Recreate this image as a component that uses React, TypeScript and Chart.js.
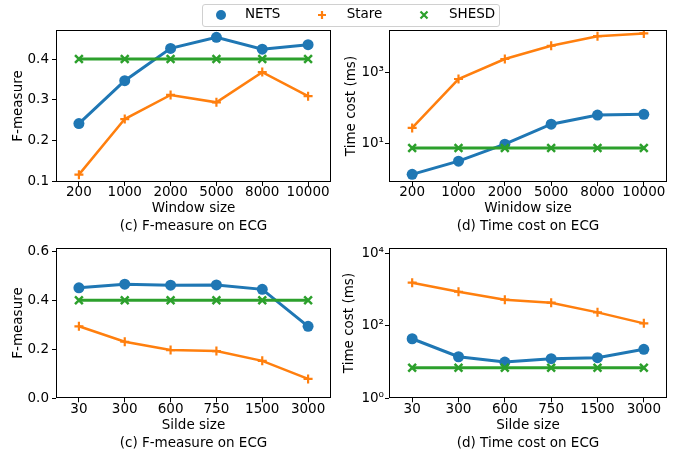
import React, { useEffect, useRef } from 'react';
import { Chart, registerables } from 'chart.js';

Chart.register(...registerables);

// ---------- data ----------
const windowSizes = ['200', '1000', '2000', '5000', '8000', '10000'];
const slideSizes = ['30', '300', '600', '750', '1500', '3000'];

const fWindowNETS = [0.242, 0.347, 0.426, 0.453, 0.424, 0.435];
const fWindowStare = [0.117, 0.253, 0.312, 0.294, 0.368, 0.309];
const fWindowSHESD = [0.4, 0.4, 0.4, 0.4, 0.4, 0.4];

const tWindowNETS = [1.36, 3.2, 9.6, 35, 63, 66];
const tWindowStare = [27.5, 650, 2370, 5600, 10400, 12400];
const tWindowSHESD = [7.5, 7.5, 7.5, 7.5, 7.5, 7.5];

const fSlideNETS = [0.451, 0.466, 0.462, 0.463, 0.445, 0.294];
const fSlideStare = [0.294, 0.231, 0.197, 0.193, 0.153, 0.079];
const fSlideSHESD = [0.4, 0.4, 0.4, 0.4, 0.4, 0.4];

const tSlideNETS = [44, 14, 10, 12.4, 13.2, 22.5];
const tSlideStare = [1550, 870, 525, 435, 235, 117];
const tSlideSHESD = [7, 7, 7, 7, 7, 7];

const fWindowTicks = [0.1, 0.2, 0.3, 0.4];
const tWindowTicks = [10, 1000];
const fSlideTicks = [0, 0.2, 0.4, 0.6];
const tSlideTicks = [1, 100, 10000];

const seriesNames = ['NETS', 'Stare', 'SHESD'];

// ---------- style ----------
const BLUE = '#1f77b4';
const ORANGE = '#ff7f0e';
const GREEN = '#2ca02c';
const FONT = '"DejaVu Sans", sans-serif';
const FS = 13.5;

const SUP: Record<string, string> = { '0': '⁰', '1': '¹', '2': '²', '3': '³', '4': '⁴', '5': '⁵', '-': '⁻' };
const logLabel = (v: number) => '10' + String(Math.round(Math.log10(v))).split('').map((c) => SUP[c] || c).join('');

const framePlugin = {
  id: 'frame',
  afterDatasetsDraw(chart: any) {
    const { ctx, chartArea } = chart;
    const l = Math.round(chartArea.left) + 0.5;
    const t = Math.round(chartArea.top) + 0.5;
    const r = Math.round(chartArea.right) - 0.5;
    const b = Math.round(chartArea.bottom) - 0.5;
    ctx.save();
    ctx.strokeStyle = '#000';
    ctx.lineWidth = 1;
    ctx.strokeRect(l, t, r - l, b - t);
    ctx.restore();
  },
};

type PanelProps = {
  left: number; top: number; width: number; height: number;
  labels: string[]; nets: number[]; stare: number[]; shesd: number[];
  log: boolean; min: number; max: number; yTicks: number[];
  xTitle: string; caption: string; yTitle: string;
  padTop: number; padRight: number; yAxisWidth: number; yTitlePad: number;
  xAxisHeight: number; capPad: number; yTickPad: number;
};

function Panel(p: PanelProps) {
  const ref = useRef<HTMLCanvasElement>(null);
  useEffect(() => {
    const tickFont = { family: FONT, size: FS, lineHeight: 1 };
    const titleFont = { family: FONT, size: FS, lineHeight: 18 / FS };
    const grid = {
      display: true, drawOnChartArea: false, drawTicks: true,
      tickLength: 4, tickColor: '#000', tickWidth: 1, offset: false,
    };
    const chart = new Chart(ref.current!, {
      type: 'line',
      data: {
        labels: p.labels,
        datasets: [
          {
            label: seriesNames[0], data: p.nets, borderColor: BLUE, backgroundColor: BLUE,
            borderWidth: 3, pointStyle: 'circle', pointRadius: 5.5, pointBorderWidth: 0,
            pointBackgroundColor: BLUE, order: 3,
          },
          {
            label: seriesNames[1], data: p.stare, borderColor: ORANGE, backgroundColor: ORANGE,
            borderWidth: 2.5, pointStyle: 'cross', pointRadius: 4.5, pointBorderWidth: 2.2,
            pointBorderColor: ORANGE, order: 2,
          },
          {
            label: seriesNames[2], data: p.shesd, borderColor: GREEN, backgroundColor: GREEN,
            borderWidth: 3, pointStyle: 'crossRot', pointRadius: 5.5, pointBorderWidth: 2.5,
            pointBorderColor: GREEN, order: 1,
          },
        ],
      },
      options: {
        responsive: false,
        animation: false,
        devicePixelRatio: 1,
        layout: { padding: { top: p.padTop, right: p.padRight, bottom: 0, left: 0 } },
        plugins: { legend: { display: false }, tooltip: { enabled: false } },
        scales: {
          x: {
            type: 'category',
            offset: true,
            grid,
            border: { display: false },
            ticks: { color: '#000', font: tickFont, padding: 0, maxRotation: 0, autoSkip: false },
            title: {
              display: true, text: [p.xTitle, p.caption], color: '#000', font: titleFont,
              padding: { top: 0, bottom: p.capPad },
            },
            afterFit: (s: any) => { s.height = p.xAxisHeight; },
          },
          y: {
            type: p.log ? 'logarithmic' : 'linear',
            min: p.min,
            max: p.max,
            grid,
            border: { display: false },
            afterBuildTicks: (s: any) => { s.ticks = p.yTicks.map((v) => ({ value: v })); },
            ticks: {
              color: '#000', font: tickFont, padding: p.yTickPad,
              callback: (v: any) => (p.log ? logLabel(Number(v)) : Number(v).toFixed(1)),
            },
            title: {
              display: true, text: p.yTitle, color: '#000', font: titleFont,
              padding: { top: p.yTitlePad, bottom: 0 },
            },
            afterFit: (s: any) => { s.width = p.yAxisWidth; },
          },
        },
      } as any,
      plugins: [framePlugin],
    } as any);
    return () => chart.destroy();
  }, []);
  return (
    <canvas
      ref={ref}
      width={p.width}
      height={p.height}
      style={{ position: 'absolute', left: p.left, top: p.top, width: p.width, height: p.height }}
    />
  );
}

function Marker({ kind, color }: { kind: string; color: string }) {
  if (kind === 'circle') return <svg width="14" height="14"><circle cx="7" cy="7" r="5" fill={color} /></svg>;
  if (kind === 'plus')
    return (
      <svg width="14" height="14">
        <path d="M7 3 V11 M3 7 H11" stroke={color} strokeWidth="2.2" />
      </svg>
    );
  return (
    <svg width="14" height="14">
      <path d="M3.5 3.5 L10.5 10.5 M10.5 3.5 L3.5 10.5" stroke={color} strokeWidth="2.2" />
    </svg>
  );
}

function Legend() {
  const items = [
    { name: seriesNames[0], kind: 'circle', color: BLUE, mx: 220.7, tx: 245 },
    { name: seriesNames[1], kind: 'plus', color: ORANGE, mx: 322.3, tx: 346.7 },
    { name: seriesNames[2], kind: 'cross', color: GREEN, mx: 424.3, tx: 449 },
  ];
  return (
    <>
      <div
        style={{
          position: 'absolute', left: 201.5, top: 3.5, width: 298, height: 23,
          border: '1px solid #d0d0d0', borderRadius: 3, background: 'rgba(255,255,255,0.8)',
          boxSizing: 'border-box',
        }}
      />
      {items.map((it) => (
        <React.Fragment key={it.name}>
          <div style={{ position: 'absolute', left: it.mx - 7, top: 15 - 7, width: 14, height: 14, lineHeight: 0 }}>
            <Marker kind={it.kind} color={it.color} />
          </div>
          <div
            style={{
              position: 'absolute', left: it.tx, top: 6.8, fontFamily: FONT, fontSize: FS,
              lineHeight: `${FS}px`, color: '#000', whiteSpace: 'nowrap',
            }}
          >
            {it.name}
          </div>
        </React.Fragment>
      ))}
    </>
  );
}

export default function App() {
  return (
    <div style={{ position: 'absolute', left: 0, top: 0, width: 678, height: 455, background: '#fff', overflow: 'hidden' }}>
      <Panel
        left={0} top={20} width={339} height={215}
        labels={windowSizes} nets={fWindowNETS} stare={fWindowStare} shesd={fWindowSHESD}
        log={false} min={0.099} max={0.471} yTicks={fWindowTicks}
        xTitle="Window size" caption="(c) F-measure on ECG" yTitle="F-measure"
        padTop={10} padRight={6} yAxisWidth={56} yTitlePad={9.3} xAxisHeight={53} capPad={0} yTickPad={3}
      />
      <Panel
        left={339} top={20} width={339} height={215}
        labels={windowSizes} nets={tWindowNETS} stare={tWindowStare} shesd={tWindowSHESD}
        log={true} min={0.83} max={15500} yTicks={tWindowTicks}
        xTitle="Winidow size" caption="(d) Time cost on ECG" yTitle="Time cost (ms)"
        padTop={10} padRight={11} yAxisWidth={50} yTitlePad={3.3} xAxisHeight={53} capPad={0} yTickPad={1}
      />
      <Panel
        left={0} top={236} width={339} height={219}
        labels={slideSizes} nets={fSlideNETS} stare={fSlideStare} shesd={fSlideSHESD}
        log={false} min={0} max={0.615} yTicks={fSlideTicks}
        xTitle="Silde size" caption="(c) F-measure on ECG" yTitle="F-measure"
        padTop={11.7} padRight={6} yAxisWidth={56} yTitlePad={9.3} xAxisHeight={56.7} capPad={2.7} yTickPad={3}
      />
      <Panel
        left={339} top={236} width={339} height={219}
        labels={slideSizes} nets={tSlideNETS} stare={tSlideStare} shesd={tSlideSHESD}
        log={true} min={1} max={14300} yTicks={tSlideTicks}
        xTitle="Silde size" caption="(d) Time cost on ECG" yTitle="Time cost (ms)"
        padTop={11.7} padRight={11} yAxisWidth={50} yTitlePad={1.7} xAxisHeight={56.7} capPad={2.7} yTickPad={1}
      />
      <Legend />
    </div>
  );
}
